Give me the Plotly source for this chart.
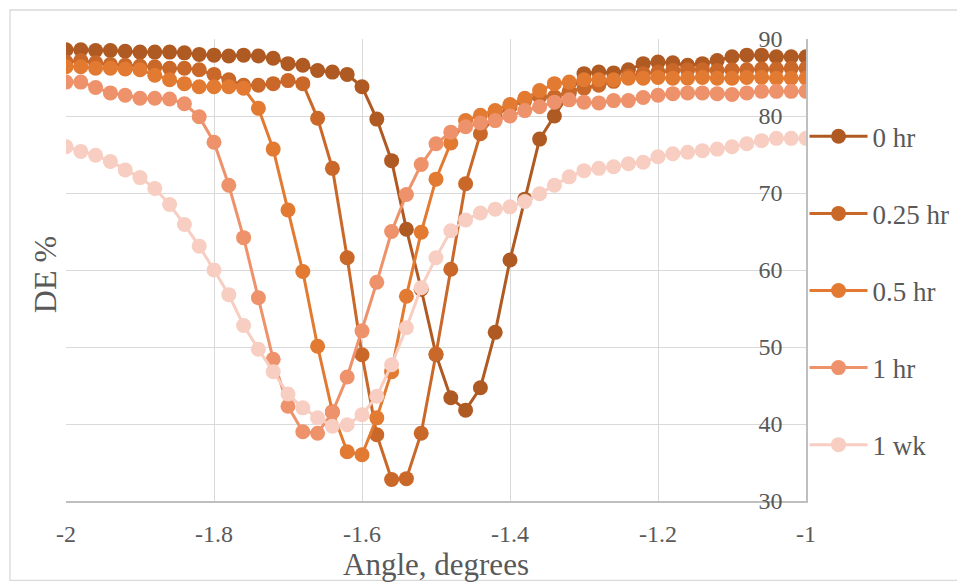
import plotly.graph_objects as go

# Angle values (degrees)
angle = [-2.00, -1.98, -1.96, -1.94, -1.92, -1.90, -1.88, -1.86, -1.84, -1.82,
         -1.80, -1.78, -1.76, -1.74, -1.72, -1.70, -1.68, -1.66, -1.64, -1.62,
         -1.60, -1.58, -1.56, -1.54, -1.52, -1.50, -1.48, -1.46, -1.44, -1.42,
         -1.40, -1.38, -1.36, -1.34, -1.32, -1.30, -1.28, -1.26, -1.24, -1.22,
         -1.20, -1.18, -1.16, -1.14, -1.12, -1.10, -1.08, -1.06, -1.04, -1.02, -1.00]

series_names = ["0 hr", "0.25 hr", "0.5 hr", "1 hr", "1 wk"]

de_0hr = [88.6, 88.6, 88.5, 88.5, 88.4, 88.3, 88.3, 88.3, 88.2, 88.0,
          87.9, 87.8, 87.9, 87.8, 87.5, 86.8, 86.6, 85.9, 85.7, 85.4,
          83.8, 79.6, 74.2, 65.3, 57.5, 49.0, 43.4, 41.8, 44.7, 51.9,
          61.3, 69.2, 77.0, 80.0, 83.0, 85.5, 85.7, 85.6, 86.0, 86.8,
          87.0, 86.9, 86.6, 86.8, 87.2, 87.7, 87.9, 87.9, 87.7, 87.7, 87.7]

de_025hr = [87.0, 87.2, 86.9, 86.7, 86.6, 86.5, 86.4, 86.2, 86.2, 86.0,
            85.4, 84.7, 84.0, 84.0, 84.2, 84.6, 84.2, 79.7, 73.2, 61.6,
            49.0, 38.6, 32.8, 32.9, 38.8, 49.1, 60.1, 71.2, 77.7, 80.0,
            81.2, 82.0, 82.5, 82.5, 83.2, 83.6, 84.0, 84.5, 85.2, 85.5,
            85.7, 85.9, 86.0, 86.0, 85.9, 86.0, 86.0, 86.1, 86.1, 86.2, 86.2]

de_05hr = [86.4, 86.4, 86.2, 86.2, 86.1, 86.0, 85.3, 84.7, 84.2, 83.8,
           83.8, 83.8, 83.6, 81.0, 75.7, 67.8, 59.8, 50.1, 41.6, 36.4,
           36.0, 40.8, 46.8, 56.6, 64.9, 71.8, 76.5, 79.4, 80.1, 80.7,
           81.5, 82.3, 83.3, 84.2, 84.4, 84.7, 84.7, 84.7, 84.9, 84.9,
           85.0, 84.9, 84.9, 85.0, 84.9, 84.9, 85.0, 85.0, 84.9, 84.9, 84.9]

de_1hr = [84.4, 84.4, 83.7, 83.0, 82.7, 82.3, 82.3, 82.2, 81.6, 79.9,
          76.6, 71.0, 64.2, 56.4, 48.4, 42.3, 39.0, 38.8, 41.5, 46.1,
          52.1, 58.4, 65.0, 69.8, 73.7, 76.4, 77.9, 78.6, 79.1, 79.4,
          80.0, 80.7, 81.2, 81.8, 82.1, 81.8, 81.7, 82.0, 82.0, 82.4,
          82.7, 82.9, 83.0, 83.0, 82.9, 82.8, 83.0, 83.2, 83.2, 83.2, 83.2]

de_1wk = [76.0, 75.4, 74.9, 74.1, 73.0, 72.0, 70.6, 68.5, 65.9, 63.1,
          60.0, 56.8, 52.8, 49.7, 46.8, 43.9, 42.1, 40.8, 39.7, 39.9,
          41.2, 43.6, 47.7, 52.5, 57.7, 61.6, 65.1, 66.5, 67.4, 67.9,
          68.2, 68.9, 69.9, 71.0, 72.1, 72.9, 73.2, 73.4, 73.8, 74.0,
          74.7, 75.1, 75.3, 75.5, 75.7, 76.0, 76.4, 76.8, 77.1, 77.1, 77.1]

x_tickvals = [-2.0, -1.8, -1.6, -1.4, -1.2, -1.0]
x_ticktext = ["-2", "-1.8", "-1.6", "-1.4", "-1.2", "-1"]
y_tickvals = [30, 40, 50, 60, 70, 80, 90]
y_ticktext = ["30", "40", "50", "60", "70", "80", "90"]

colors = ["#B05A23", "#CA682A", "#E27A32", "#EE926C", "#F7CEC1"]
all_series = [de_0hr, de_025hr, de_05hr, de_1hr, de_1wk]

FONT = '"Liberation Serif", "Times New Roman", Times, serif'
GREY = "#595959"

fig = go.Figure()
for name, vals, col in zip(series_names, all_series, colors):
    fig.add_trace(go.Scatter(
        x=angle, y=vals, name=name, mode="lines+markers",
        legendgroup=name,
        line=dict(color=col, width=3),
        marker=dict(color=col, size=15),
    ))

# page body has an 8px margin: the figure is sized/offset to compensate
fig.update_layout(
    width=957, height=575,
    margin=dict(l=58, r=159, t=31, b=82, pad=0, autoexpand=False),
    paper_bgcolor="white", plot_bgcolor="white",
    font=dict(family=FONT, color=GREY, size=24),
    showlegend=True,
    legend=dict(
        x=0.998, xanchor="left", y=0.8415, yanchor="top",
        font=dict(family=FONT, size=27, color=GREY),
        tracegroupgap=39, bgcolor="rgba(0,0,0,0)",
        itemwidth=58,
    ),
    xaxis=dict(
        range=[-2, -1], tickvals=x_tickvals, ticktext=x_ticktext,
        automargin=False,
        showgrid=True, gridcolor="#D9D9D9", gridwidth=1.3,
        showline=True, linecolor="#BFBFBF", linewidth=1.5,
        ticks="", zeroline=False, ticklabelstandoff=10,
        tickfont=dict(family=FONT, size=24, color=GREY),
        title=dict(text="Angle, degrees", standoff=0,
                   font=dict(family=FONT, size=31, color=GREY)),
    ),
    yaxis=dict(
        range=[30, 90], tickvals=y_tickvals, ticktext=y_ticktext,
        side="right", automargin=False,
        showgrid=True, gridcolor="#D9D9D9", gridwidth=1.3,
        showline=True, linecolor="#BFBFBF", linewidth=1.5,
        ticks="", zeroline=False,
        ticklabelposition="outside", ticklabelstandoff=-54,
        tickfont=dict(family=FONT, size=24, color=GREY),
    ),
    annotations=[dict(
        text="DE %", textangle=-90, xref="paper", yref="paper",
        x=-0.029, y=0.49, xanchor="center", yanchor="middle",
        showarrow=False, font=dict(family=FONT, size=32, color=GREY),
    )],
    shapes=[dict(
        type="rect", xref="paper", yref="paper",
        x0=-0.0757, x1=1.2122, y0=-0.172, y1=1.0628,
        line=dict(color="#D9D9D9", width=1.3), fillcolor="rgba(0,0,0,0)",
        layer="below",
    )],
)

fig.write_html("out.html")
